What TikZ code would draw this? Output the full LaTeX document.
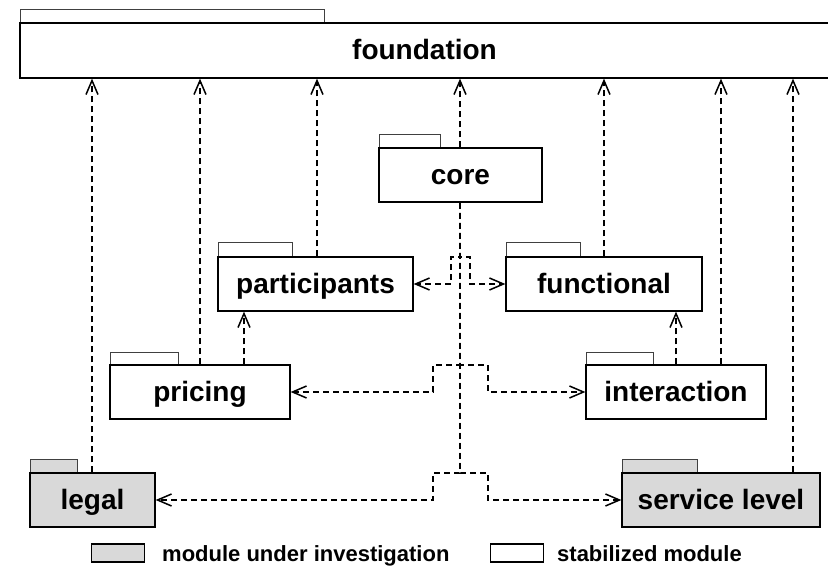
\documentclass[tikz,border=0pt]{standalone}
\usepackage{fontspec}
\setmainfont{Liberation Sans}
\usetikzlibrary{arrows.meta}
\definecolor{modgray}{RGB}{217,217,217}
\tikzset{
  pkgbox/.style={draw=black, line width=1.3pt, inner sep=0pt,
    font=\bfseries\fontsize{28}{30}\selectfont, text height=22pt, text depth=3pt},
  pkgtab/.style={draw=black!75, line width=1pt},
  dep/.style={dash pattern=on 6pt off 4pt, line width=1.5pt,
    -{Straight Barb[length=14pt,width=12pt]}},
  legbox/.style={draw=black, line width=1.3pt, minimum width=53pt, minimum height=18pt, inner sep=0pt},
  legtext/.style={font=\bfseries\fontsize{22}{24}\selectfont, inner sep=0pt, anchor=base west},
}
% name, x1, y1, x2, y2, xtab, ytab, fill, text
\newcommand\pkgnode[9]{%
  \draw[pkgtab, fill=#8] (#2,#7) rectangle (#6,#3);
  \node[pkgbox, fill=#8, minimum width={(#4-#2)*1pt}, minimum height={(#5-#3)*1pt}]
    (#1) at ({(#2+#4)/2},{(#3+#5)/2}) {#9};
}
\begin{document}
\begin{tikzpicture}[x=1pt,y=-1pt]
\useasboundingbox (0,0) rectangle (828,572);
\begin{scope}
\clip (0,0) rectangle (828,572);
\pkgnode{foundation}{20}{23}{829}{78}{324}{10}{white}{foundation}
\end{scope}
\pkgnode{core}{379}{148}{542}{202}{440}{135}{white}{core}
\pkgnode{participants}{218}{257}{413}{311}{292}{243}{white}{participants}
\pkgnode{functional}{506}{257}{702}{311}{580}{243}{white}{functional}
\pkgnode{pricing}{110}{365}{290}{419}{178}{352}{white}{pricing}
\pkgnode{interaction}{586}{365}{766}{419}{653}{352}{white}{interaction}
\pkgnode{legal}{30}{473}{155}{527}{77}{459}{modgray}{legal}
\pkgnode{service}{622}{473}{820}{527}{697}{459}{modgray}{service level}

% dependencies on foundation
\draw[dep] (legal.north -| 92,0) -- (foundation.south -| 92,0);
\draw[dep] (pricing.north -| 200,0) -- (foundation.south -| 200,0);
\draw[dep] (participants.north -| 317,0) -- (foundation.south -| 317,0);
\draw[dep] (core.north -| 460,0) -- (foundation.south -| 460,0);
\draw[dep] (functional.north -| 604,0) -- (foundation.south -| 604,0);
\draw[dep] (interaction.north -| 721,0) -- (foundation.south -| 721,0);
\draw[dep] (service.north -| 793,0) -- (foundation.south -| 793,0);
% other dependencies
\draw[dep] (pricing.north -| 244,0) -- (participants.south -| 244,0);
\draw[dep] (interaction.north -| 676,0) -- (functional.south -| 676,0);
% core dependencies (trunk drawn as overlapping lines)
\draw[dep] (core.south -| 459.3,0) -- (459.3,257) -- (451,257) -- (451,284) -- (participants.east);
\draw[dep] (core.south -| 460.7,0) -- (460.7,257) -- (470,257) -- (470,284) -- (functional.west);
\draw[dep] (core.south -| 459.3,0) -- (459.3,365) -- (433,365) -- (433,392) -- (pricing.east);
\draw[dep] (core.south -| 460.7,0) -- (460.7,365) -- (488,365) -- (488,392) -- (interaction.west);
\draw[dep] (core.south -| 459.3,0) -- (459.3,473) -- (433,473) -- (433,500) -- (legal.east);
\draw[dep] (core.south -| 460.7,0) -- (460.7,473) -- (488,473) -- (488,500) -- (service.west);

% legend
\node[legbox, fill=modgray] (leg1) at (118,553) {};
\node[legtext] (leg1t) at (162,561) {module under investigation};
\node[legbox, fill=white] (leg2) at (517,553) {};
\node[legtext] (leg2t) at (557,561) {stabilized module};
\end{tikzpicture}
\end{document}
